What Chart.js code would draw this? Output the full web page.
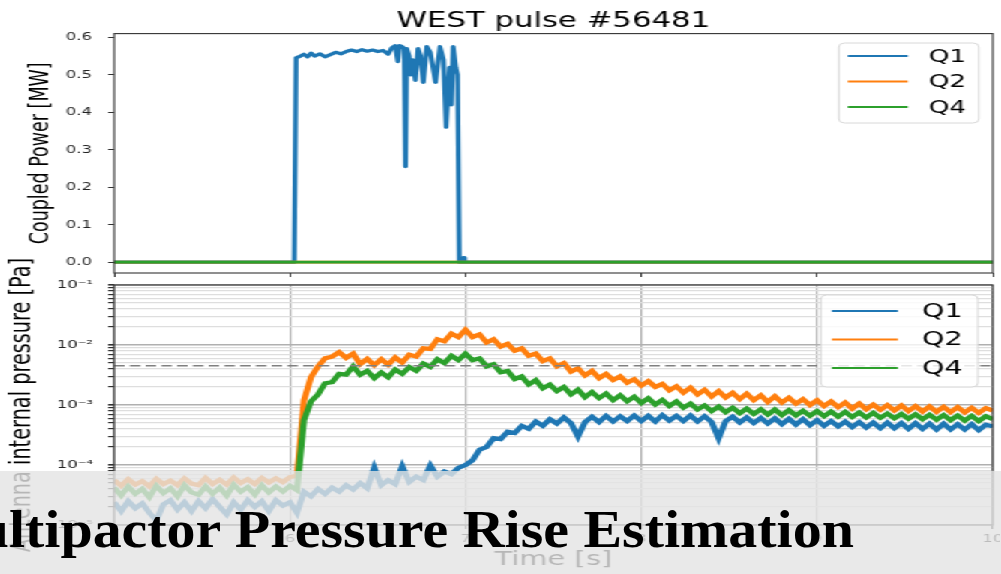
<!DOCTYPE html>
<html>
<head>
<meta charset="utf-8">
<script src="https://cdn.jsdelivr.net/npm/chart.js@4.4.1/dist/chart.umd.min.js"></script>
<style>
html, body { margin: 0; padding: 0; background: #fff; overflow: hidden; }
/* the source figure is a matplotlib plot stretched sideways, so draw narrow and widen */
#fig { position: absolute; left: 0; top: 0; width: 667px; height: 574px; transform: scaleX(1.5); transform-origin: 0 0; }
#fig canvas { position: absolute; left: 0; top: 0; }
#banner { position: absolute; left: 0; top: 471px; width: 1001px; height: 103px; background: rgba(228, 228, 228, 0.8); overflow: hidden; }
#headline { position: absolute; top: 33px; left: -65px; font: bold 52px "Liberation Serif", serif; line-height: 52px; white-space: nowrap; color: #000; transform-origin: 0 0; }
</style>
</head>
<body>
<div id="fig">
  <canvas id="power" width="667" height="574"></canvas>
  <canvas id="press" width="667" height="574"></canvas>
</div>
<div id="banner"><span id="headline">Multipactor Pressure Rise Estimation</span></div>
<script>
// WEST pulse #56481
var seriesNames = ['Q1', 'Q2', 'Q4'];
var seriesColors = ['#1f77b4', '#ff7f0e', '#2ca02c'];

// coupled power [MW]
var powerTimeQ1 = [5.00, 6.025, 6.035, 6.06, 6.08, 6.10, 6.12, 6.14, 6.17, 6.20, 6.23, 6.26, 6.29, 6.32, 6.35, 6.38, 6.41, 6.44, 6.47, 6.50,
  6.53, 6.56, 6.58, 6.60, 6.615, 6.625, 6.64, 6.652, 6.659, 6.666, 6.68, 6.69, 6.70, 6.715, 6.73, 6.745, 6.76, 6.78, 6.80, 6.83,
  6.855, 6.875, 6.89, 6.90, 6.91, 6.92, 6.93, 6.945, 6.955, 6.965, 6.985, 6.99, 6.995, 10.00];
var powerQ1 = [0, 0, 0.545, 0.55, 0.555, 0.548, 0.558, 0.55, 0.556, 0.548, 0.554, 0.56, 0.556, 0.562, 0.566, 0.562, 0.567, 0.563, 0.566, 0.562,
  0.565, 0.555, 0.572, 0.578, 0.535, 0.578, 0.575, 0.57, 0.255, 0.57, 0.55, 0.5, 0.54, 0.485, 0.57, 0.55, 0.48, 0.575, 0.56, 0.48,
  0.575, 0.54, 0.36, 0.45, 0.52, 0.42, 0.575, 0.52, 0.5, 0, 0, 0.012, 0, 0];
var powerTimeOff = [5, 10];
var powerQ2 = [0, 0];
var powerQ4 = [0, 0];

// antenna internal pressure [Pa]
var pressTime = [
  5.00, 5.04, 5.08, 5.12, 5.16, 5.20, 5.24, 5.28, 5.32, 5.36, 5.40, 5.44, 5.48, 5.52, 5.56, 5.60, 5.64, 5.68, 5.72, 5.76, 5.80, 5.84, 5.88, 5.92, 5.96,
  6.00, 6.04, 6.08, 6.12, 6.16, 6.20, 6.24, 6.28, 6.32, 6.36, 6.40, 6.44, 6.48, 6.52, 6.56, 6.60, 6.64, 6.68, 6.72, 6.76, 6.80, 6.84, 6.88, 6.92, 6.96,
  7.00, 7.04, 7.08, 7.12, 7.16, 7.20, 7.24, 7.28, 7.32, 7.36, 7.40, 7.44, 7.48, 7.52, 7.56, 7.60, 7.64, 7.68, 7.72, 7.76, 7.80, 7.84, 7.88, 7.92, 7.96,
  8.00, 8.04, 8.08, 8.12, 8.16, 8.20, 8.24, 8.28, 8.32, 8.36, 8.40, 8.44, 8.48, 8.52, 8.56, 8.60, 8.64, 8.68, 8.72, 8.76, 8.80, 8.84, 8.88, 8.92, 8.96,
  9.00, 9.04, 9.08, 9.12, 9.16, 9.20, 9.24, 9.28, 9.32, 9.36, 9.40, 9.44, 9.48, 9.52, 9.56, 9.60, 9.64, 9.68, 9.72, 9.76, 9.80, 9.84, 9.88, 9.92, 9.96,
  10.00];
var pressQ1 = [
  2.4e-5, 1.7e-5, 2.5e-5, 1.9e-5, 2.3e-5, 1.6e-5, 1.2e-5, 2.2e-5, 2.6e-5, 1.8e-5, 2.4e-5, 1.7e-5, 2.5e-5, 1.9e-5, 2.7e-5, 2.0e-5, 1.5e-5, 2.4e-5, 1.8e-5, 2.6e-5, 2.0e-5, 2.5e-5, 1.7e-5, 2.6e-5, 2.1e-5,
  2.4e-5, 1.6e-5, 3.6e-5, 3.0e-5, 4.0e-5, 3.3e-5, 4.2e-5, 3.6e-5, 4.6e-5, 3.9e-5, 5.0e-5, 4.1e-5, 9.0e-5, 4.6e-5, 5.6e-5, 4.8e-5, 9.5e-5, 5.2e-5, 6.4e-5, 5.6e-5, 9.8e-5, 6.4e-5, 7.8e-5, 7.0e-5, 9.0e-5,
  1.0e-4, 1.2e-4, 1.8e-4, 2.0e-4, 2.8e-4, 2.7e-4, 3.6e-4, 3.4e-4, 4.5e-4, 4.0e-4, 5.3e-4, 4.5e-4, 5.8e-4, 4.9e-4, 6.2e-4, 5.0e-4, 3.0e-4, 5.2e-4, 6.4e-4, 5.2e-4, 6.6e-4, 5.3e-4, 6.5e-4, 5.4e-4, 6.7e-4,
  5.4e-4, 6.6e-4, 5.3e-4, 6.8e-4, 5.5e-4, 6.6e-4, 5.4e-4, 6.7e-4, 5.3e-4, 6.5e-4, 5.2e-4, 2.8e-4, 5.4e-4, 6.4e-4, 5.1e-4, 6.2e-4, 5.0e-4, 6.1e-4, 4.9e-4, 6.0e-4, 4.8e-4, 5.9e-4, 4.7e-4, 5.8e-4, 4.6e-4,
  5.6e-4, 4.5e-4, 5.4e-4, 4.4e-4, 5.3e-4, 4.3e-4, 5.2e-4, 4.2e-4, 5.1e-4, 4.1e-4, 5.1e-4, 4.1e-4, 5.0e-4, 4.0e-4, 5.0e-4, 4.0e-4, 4.9e-4, 3.9e-4, 4.9e-4, 3.9e-4, 4.8e-4, 3.9e-4, 4.8e-4, 3.8e-4, 4.7e-4,
  4.4e-4];
var pressQ2 = [
  5.6e-5, 4.5e-5, 5.8e-5, 4.7e-5, 5.4e-5, 4.4e-5, 5.9e-5, 4.8e-5, 5.5e-5, 4.6e-5, 6.0e-5, 4.9e-5, 4.6e-5, 6.1e-5, 4.8e-5, 5.7e-5, 4.7e-5, 6.2e-5, 5.0e-5, 5.8e-5, 4.8e-5, 6.1e-5, 5.1e-5, 6.0e-5, 5.2e-5,
  6.3e-5, 6.6e-5, 1.2e-3, 2.9e-3, 4.4e-3, 6.0e-3, 6.4e-3, 7.6e-3, 6.1e-3, 7.2e-3, 4.8e-3, 5.9e-3, 4.6e-3, 5.8e-3, 4.7e-3, 6.2e-3, 5.1e-3, 6.9e-3, 6.4e-3, 8.8e-3, 8.6e-3, 1.25e-2, 1.15e-2, 1.55e-2, 1.35e-2,
  1.8e-2, 1.35e-2, 1.5e-2, 1.1e-2, 1.25e-2, 9.4e-3, 1.05e-2, 8.0e-3, 8.8e-3, 6.6e-3, 7.2e-3, 5.4e-3, 6.0e-3, 4.4e-3, 5.0e-3, 3.6e-3, 4.1e-3, 3.1e-3, 3.7e-3, 2.8e-3, 3.3e-3, 2.6e-3, 3.0e-3, 2.35e-3, 2.7e-3,
  2.1e-3, 2.5e-3, 2.0e-3, 2.25e-3, 1.75e-3, 2.05e-3, 1.6e-3, 1.95e-3, 1.5e-3, 1.8e-3, 1.38e-3, 1.7e-3, 1.33e-3, 1.6e-3, 1.25e-3, 1.55e-3, 1.2e-3, 1.45e-3, 1.12e-3, 1.4e-3, 1.1e-3, 1.32e-3, 1.05e-3, 1.25e-3, 1.0e-3,
  1.2e-3, 9.6e-4, 1.15e-3, 9.2e-4, 1.1e-3, 8.7e-4, 1.06e-3, 8.5e-4, 1.02e-3, 8.3e-4, 1.0e-3, 8.1e-4, 9.8e-4, 7.9e-4, 9.6e-4, 7.8e-4, 9.5e-4, 7.7e-4, 9.3e-4, 7.6e-4, 9.2e-4, 7.5e-4, 9.0e-4, 7.4e-4, 8.9e-4,
  8.0e-4];
var pressQ4 = [
  4.2e-5, 3.1e-5, 4.4e-5, 3.3e-5, 4.0e-5, 2.9e-5, 4.5e-5, 3.4e-5, 4.1e-5, 3.0e-5, 4.6e-5, 3.5e-5, 3.2e-5, 4.4e-5, 3.3e-5, 4.2e-5, 3.1e-5, 4.7e-5, 3.6e-5, 4.3e-5, 3.2e-5, 4.6e-5, 3.5e-5, 4.4e-5, 3.6e-5,
  4.5e-5, 3.8e-5, 5.6e-4, 1.15e-3, 1.5e-3, 2.3e-3, 2.4e-3, 3.3e-3, 3.2e-3, 4.4e-3, 3.2e-3, 3.7e-3, 2.8e-3, 3.5e-3, 2.9e-3, 3.9e-3, 3.3e-3, 4.3e-3, 3.7e-3, 4.9e-3, 4.3e-3, 5.8e-3, 5.0e-3, 6.6e-3, 5.6e-3,
  7.2e-3, 5.6e-3, 6.0e-3, 4.4e-3, 4.8e-3, 3.5e-3, 3.7e-3, 2.7e-3, 3.0e-3, 2.2e-3, 2.6e-3, 1.9e-3, 2.2e-3, 1.7e-3, 2.0e-3, 1.5e-3, 1.8e-3, 1.35e-3, 1.65e-3, 1.3e-3, 1.55e-3, 1.2e-3, 1.45e-3, 1.15e-3, 1.38e-3,
  1.08e-3, 1.3e-3, 1.02e-3, 1.22e-3, 9.6e-4, 1.15e-3, 9.0e-4, 1.06e-3, 8.4e-4, 9.8e-4, 7.9e-4, 9.4e-4, 7.6e-4, 9.0e-4, 7.3e-4, 8.7e-4, 7.1e-4, 8.5e-4, 6.9e-4, 8.4e-4, 6.8e-4, 8.2e-4, 6.7e-4, 8.0e-4, 6.6e-4,
  7.9e-4, 6.5e-4, 7.8e-4, 6.4e-4, 7.7e-4, 6.3e-4, 7.5e-4, 6.2e-4, 7.4e-4, 6.1e-4, 7.2e-4, 6.0e-4, 7.1e-4, 5.9e-4, 7.0e-4, 5.8e-4, 6.9e-4, 5.7e-4, 6.8e-4, 5.6e-4, 6.7e-4, 5.5e-4, 6.6e-4, 5.4e-4, 6.5e-4,
  5.8e-4];
var limitTime = [5, 10];
var pressLimit = [4.5e-3, 4.5e-3];

// axes
var timeTicks = [5, 6, 7, 8, 9, 10];
var powerTicks = [0, 0.1, 0.2, 0.3, 0.4, 0.5, 0.6];
var pressDecades = [1e-5, 1e-4, 1e-3, 1e-2, 1e-1];
var pressDecadeLabels = ['10\u207B\u2075', '10\u207B\u2074', '10\u207B\u00B3', '10\u207B\u00B2', '10\u207B\u00B9'];

var pressTicks = [];
pressDecades.forEach(function (d, i) {
  pressTicks.push(d);
  if (i < pressDecades.length - 1) {
    for (var m = 2; m < 10; m++) pressTicks.push(m * d);
  }
});

function pts(xs, ys) {
  return xs.map(function (x, i) { return { x: x, y: ys[i] }; });
}
function isDecade(v) {
  var l = Math.log10(v);
  return Math.abs(l - Math.round(l)) < 1e-6;
}

var tickFont = { family: 'DejaVu Sans', size: 11 };

// axes box on all four sides
var frame = {
  id: 'frame',
  afterDatasetsDraw: function (chart) {
    var a = chart.chartArea, ctx = chart.ctx;
    ctx.save();
    ctx.strokeStyle = '#333';
    ctx.lineWidth = 1.1;
    ctx.strokeRect(a.left, a.top, a.right - a.left, a.bottom - a.top);
    ctx.restore();
  }
};

// matplotlib style legend, drawn where the original sits
var legendBox = {
  id: 'legendBox',
  afterDraw: function (chart, args, o) {
    var ctx = chart.ctx;
    ctx.save();
    ctx.beginPath();
    ctx.roundRect(o.left, o.top, o.right - o.left, o.bottom - o.top, 4);
    ctx.fillStyle = 'rgba(255,255,255,0.8)';
    ctx.fill();
    ctx.strokeStyle = '#d8d8d8';
    ctx.lineWidth = 1;
    ctx.stroke();
    ctx.font = o.size + 'px "DejaVu Sans"';
    ctx.textBaseline = 'middle';
    seriesNames.forEach(function (name, i) {
      var y = o.y0 + i * o.dy;
      ctx.strokeStyle = seriesColors[i];
      ctx.lineWidth = 2;
      ctx.beginPath();
      ctx.moveTo(o.x1, y);
      ctx.lineTo(o.x2, y);
      ctx.stroke();
      ctx.fillStyle = '#000';
      ctx.fillText(name, o.tx, y + 1);
    });
    ctx.restore();
  }
};

new Chart(document.getElementById('power'), {
  type: 'line',
  data: {
    datasets: [
      { label: 'Q1', data: pts(powerTimeQ1, powerQ1), borderColor: seriesColors[0], borderWidth: 3.2, order: 3 },
      { label: 'Q2', data: pts(powerTimeOff, powerQ2), borderColor: seriesColors[1], borderWidth: 2.6, order: 2 },
      { label: 'Q4', data: pts(powerTimeOff, powerQ4), borderColor: seriesColors[2], borderWidth: 2.6, order: 1 }
    ]
  },
  options: {
    responsive: false,
    animation: false,
    layout: { padding: { left: 0, right: 5, top: 0, bottom: 295 } },
    elements: { point: { radius: 0 }, line: { tension: 0, borderJoinStyle: 'round' } },
    plugins: {
      legend: { display: false },
      tooltip: { enabled: false },
      title: {
        display: true, fullSize: false, text: 'WEST pulse #56481', color: '#000',
        font: { family: 'DejaVu Sans', size: 20.5, weight: 'normal' },
        padding: { top: 9, bottom: 0 }
      },
      legendBox: { left: 559.3, top: 43, right: 652.7, bottom: 123, x1: 565.3, x2: 605.3, tx: 619.3, y0: 56, dy: 25.5, size: 17.5 }
    },
    scales: {
      x: {
        type: 'linear', min: 5, max: 10,
        afterBuildTicks: function (s) { s.ticks = timeTicks.map(function (v) { return { value: v }; }); },
        afterFit: function (s) { s.height = 6; s.paddingLeft = 0; s.paddingRight = 0; },
        ticks: { display: false, autoSkip: false },
        grid: { drawOnChartArea: false, tickLength: 4, tickColor: '#333' },
        border: { display: false }
      },
      y: {
        type: 'linear', min: -0.029, max: 0.61,
        afterBuildTicks: function (s) { s.ticks = powerTicks.map(function (v) { return { value: v }; }); },
        afterFit: function (s) { s.width = 76; s.paddingTop = 0; s.paddingBottom = 0; },
        ticks: {
          autoSkip: false, color: '#222', font: tickFont, padding: 10.7,
          callback: function (v) { return v.toFixed(1); }
        },
        grid: { drawOnChartArea: false, tickLength: 4, tickColor: '#333' },
        border: { display: false },
        title: {
          display: true, text: 'Coupled Power [MW]', color: '#000',
          font: { family: 'DejaVu Sans', size: 17.5 }, padding: { top: 17, bottom: 0 }
        }
      }
    }
  },
  plugins: [frame, legendBox]
});

new Chart(document.getElementById('press'), {
  type: 'line',
  data: {
    datasets: [
      { label: 'Q1', data: pts(pressTime, pressQ1), borderColor: seriesColors[0], borderWidth: 4.2, order: 3 },
      { label: 'Q2', data: pts(pressTime, pressQ2), borderColor: seriesColors[1], borderWidth: 4.2, order: 2 },
      { label: 'Q4', data: pts(pressTime, pressQ4), borderColor: seriesColors[2], borderWidth: 4.2, order: 1 },
      { label: 'limit', data: pts(limitTime, pressLimit), borderColor: '#808080', borderWidth: 1.6, borderDash: [7, 3.5], order: 0 }
    ]
  },
  options: {
    responsive: false,
    animation: false,
    layout: { padding: { left: 0, right: 5, top: 285, bottom: 0 } },
    elements: { point: { radius: 0 }, line: { tension: 0, borderJoinStyle: 'miter' } },
    plugins: {
      legend: { display: false },
      tooltip: { enabled: false },
      legendBox: { left: 547.3, top: 295, right: 652, bottom: 387, x1: 554.7, x2: 598.7, tx: 614.7, y0: 311, dy: 28.5, size: 19 }
    },
    scales: {
      x: {
        type: 'linear', min: 5, max: 10,
        afterBuildTicks: function (s) { s.ticks = timeTicks.map(function (v) { return { value: v }; }); },
        afterFit: function (s) { s.height = 49; s.paddingLeft = 0; s.paddingRight = 0; },
        ticks: { autoSkip: false, color: '#222', font: tickFont, padding: 4, maxRotation: 0 },
        grid: { color: '#b0b0b0', lineWidth: 1.2, tickLength: 4, tickColor: '#333' },
        border: { display: false },
        title: {
          display: true, text: 'Time [s]', color: '#000',
          font: { family: 'DejaVu Sans', size: 19.3 }, padding: { top: 0, bottom: 2.4 }
        }
      },
      y: {
        type: 'logarithmic', min: 1e-5, max: 1e-1,
        afterBuildTicks: function (s) { s.ticks = pressTicks.map(function (v) { return { value: v }; }); },
        afterFit: function (s) { s.width = 76; s.paddingTop = 0; s.paddingBottom = 0; },
        ticks: {
          autoSkip: false, color: '#222', font: tickFont, padding: 10,
          callback: function (v) {
            var k = pressDecades.indexOf(v);
            return k < 0 ? '' : pressDecadeLabels[k];
          }
        },
        grid: {
          color: function (c) { return c.tick && isDecade(c.tick.value) ? '#b0b0b0' : '#dedede'; },
          lineWidth: function (c) { return c.tick && isDecade(c.tick.value) ? 1.6 : 1.2; },
          tickLength: 4, tickColor: '#333'
        },
        border: { display: false },
        title: {
          display: true, text: 'Antenna internal pressure [Pa]', color: '#000',
          font: { family: 'DejaVu Sans', size: 19.3 }, padding: { top: 3, bottom: 0 }
        }
      }
    }
  },
  plugins: [frame, legendBox]
});

// banner caption: "Mu" sits off the left edge, "Estimation" ends near x=855
(function () {
  var head = document.getElementById('headline');
  var m = document.createElement('canvas').getContext('2d');
  m.font = 'bold 52px "Liberation Serif"';
  var wPre = m.measureText('Mu').width;
  var wAll = m.measureText(head.textContent).width;
  var k = (855 - 9) / (wAll - wPre);
  head.style.left = (9 - wPre * k) + 'px';
  head.style.transform = 'scaleX(' + k + ')';
})();
</script>
</body>
</html>
